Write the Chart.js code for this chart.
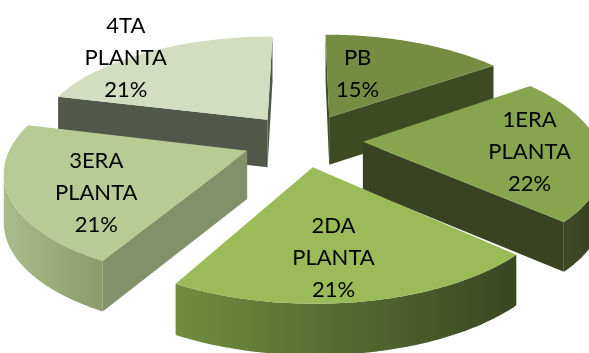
<!DOCTYPE html>
<html>
<head>
<meta charset="utf-8">
<script src="https://cdn.jsdelivr.net/npm/chart.js@4.4.1/dist/chart.umd.min.js"></script>
<style>
  html, body { margin: 0; padding: 0; background: #ffffff; overflow: hidden; }
  canvas { display: block; }
</style>
</head>
<body>
<canvas id="chart" width="589" height="353"></canvas>
<script>
// Floors of the building and their share of the total (percent)
const categories = ['PB', '1ERA PLANTA', '2DA PLANTA', '3ERA PLANTA', '4TA PLANTA'];
const labelNames = [['PB'], ['1ERA', 'PLANTA'], ['2DA', 'PLANTA'], ['3ERA', 'PLANTA'], ['4TA', 'PLANTA']];
const shares = [15, 22, 21, 21, 21];

// Slice styling: top face, radial side face, curved outer wall (left -> right shade)
const topColors  = ['#758C42', '#87A54E', '#9BBB59', '#B9CB95', '#D3DDBF'];
const sideColors = ['#3E4A22', '#394221', '#4F6130', '#83916B', '#525849'];
const wallColors = [['#4A5829', '#3E4A22'], ['#3F4A25', '#363F1F'], ['#718D3E', '#3A4622'], ['#ABBC8C', '#8A9A6B'], ['#6A7260', '#52584A']];

// Camera used to lay the pie on a tilted plane with some perspective
const CAM = { cx: 303, cy: 140, A: 234, B: 103.4, p: 0.167, H: 48 };
// Label placement relative to the slice's inner point (pixels)
const LABEL_NUDGE = [[-26, 3], [25, 5.5], [-6, 15.5], [-12, 15], [-67, -20]];
const LINE_GAP = 32;

function project(X, Z, h) {
  const w = 1 - CAM.p * Z;
  return { x: CAM.cx + CAM.A * X / w, y: CAM.cy + CAM.B * Z / w + CAM.H * h * Math.pow(w, -0.3) };
}

// Geometry of one slice, normalised to the arc's outer radius
function sliceGeom(arc) {
  const ts = arc.startAngle + Math.PI / 2;
  const te = arc.endAngle + Math.PI / 2;
  const tm = (ts + te) / 2;
  const e = (arc.options.offset || 0) / arc.outerRadius;
  const ox = e * Math.sin(tm), oz = -e * Math.cos(tm);
  const pt = (r, t, h) => project(r * Math.sin(t) + ox, -r * Math.cos(t) + oz, h);
  return { ts, te, tm, ox, oz, pt };
}

function polyArea(pts) {
  let s = 0;
  for (let i = 0; i < pts.length; i++) {
    const a = pts[i], b = pts[(i + 1) % pts.length];
    s += a.x * b.y - b.x * a.y;
  }
  return s / 2;
}

function fillPoly(ctx, pts, fill) {
  ctx.beginPath();
  ctx.moveTo(pts[0].x, pts[0].y);
  for (let i = 1; i < pts.length; i++) ctx.lineTo(pts[i].x, pts[i].y);
  ctx.closePath();
  ctx.fillStyle = fill;
  ctx.fill();
}

const pie3d = {
  id: 'pie3d',
  beforeDatasetsDraw(chart) {
    const ctx = chart.ctx;
    const arcs = chart.getDatasetMeta(0).data;
    const order = arcs.map((a, i) => ({ i, g: sliceGeom(a) }))
      .sort((u, v) => u.g.oz - v.g.oz);

    ctx.save();
    for (const { i, g } of order) {
      const N = 80;
      // curved outer wall, only the part turned toward the viewer
      let run = [];
      const runs = [];
      for (let k = 0; k < N; k++) {
        const t1 = g.ts + (g.te - g.ts) * k / N;
        const t2 = g.ts + (g.te - g.ts) * (k + 1) / N;
        const q = [g.pt(1, t1, 0), g.pt(1, t2, 0), g.pt(1, t2, 1), g.pt(1, t1, 1)];
        if (polyArea(q) < 0) {
          if (!run.length) run.push(t1);
          run.push(t2);
        } else if (run.length) { runs.push(run); run = []; }
      }
      if (run.length) runs.push(run);
      for (const r of runs) {
        const top = r.map(t => g.pt(1, t, 0));
        const bot = r.map(t => g.pt(1, t, 1)).reverse();
        const pts = top.concat(bot);
        const xs = pts.map(p => p.x);
        const grad = ctx.createLinearGradient(Math.min(...xs), 0, Math.max(...xs), 0);
        grad.addColorStop(0, wallColors[i][0]);
        grad.addColorStop(1, wallColors[i][1]);
        fillPoly(ctx, pts, grad);
      }

      // radial side faces
      const sFace = [g.pt(0, g.ts, 0), g.pt(1, g.ts, 0), g.pt(1, g.ts, 1), g.pt(0, g.ts, 1)];
      const eFace = [g.pt(0, g.te, 0), g.pt(1, g.te, 0), g.pt(1, g.te, 1), g.pt(0, g.te, 1)];
      if (polyArea(sFace) < -1) fillPoly(ctx, sFace, sideColors[i]);
      if (polyArea(eFace) > 1) fillPoly(ctx, eFace, sideColors[i]);

      // top face
      const topPts = [g.pt(0, g.ts, 0)];
      for (let k = 0; k <= N; k++) topPts.push(g.pt(1, g.ts + (g.te - g.ts) * k / N, 0));
      fillPoly(ctx, topPts, topColors[i]);
    }

    // labels: category name and percentage of the total
    const total = shares.reduce((a, b) => a + b, 0);
    ctx.fillStyle = '#000000';
    ctx.font = '22px Lato, "Liberation Sans", sans-serif';
    ctx.textAlign = 'center';
    ctx.textBaseline = 'alphabetic';
    arcs.forEach((arc, i) => {
      const g = sliceGeom(arc);
      const a = g.pt(0.6, g.tm, 0);
      const lines = labelNames[i].concat([Math.round(shares[i] / total * 100) + '%']);
      const cx = a.x + LABEL_NUDGE[i][0];
      const cy = a.y + LABEL_NUDGE[i][1];
      const y0 = cy - (lines.length - 1) * LINE_GAP / 2;
      lines.forEach((ln, k) => ctx.fillText(ln, cx, y0 + k * LINE_GAP + 8));
    });
    ctx.restore();
    return false;
  }
};

new Chart(document.getElementById('chart'), {
  type: 'pie',
  data: {
    labels: categories,
    datasets: [{ data: shares, backgroundColor: topColors, borderWidth: 0, offset: 40 }]
  },
  options: {
    responsive: false,
    animation: false,
    layout: { padding: 0 },
    plugins: { legend: { display: false }, tooltip: { enabled: false } }
  },
  plugins: [pie3d]
});
</script>
</body>
</html>
